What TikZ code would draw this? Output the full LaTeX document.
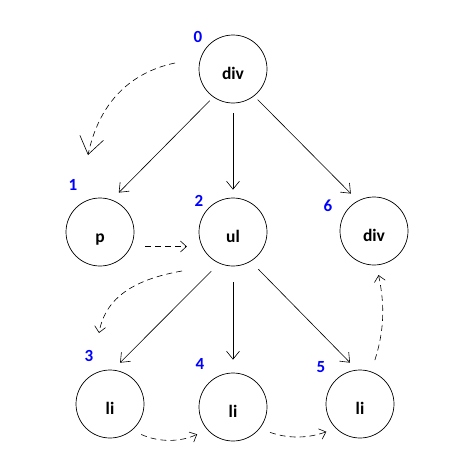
\documentclass[tikz,border=0pt]{standalone}
\usepackage{fontspec}
\setmainfont{Carlito}
\usetikzlibrary{arrows.meta}

\begin{document}
\begin{tikzpicture}[
    x=1pt, y=-1pt,
    elem/.style={draw, circle, line width=0.7pt, minimum size=68pt, inner sep=0pt,
                 text height=22pt, text depth=1pt,
                 font=\fontsize{17.5}{20}\selectfont\bfseries},
    orden/.style={text=blue, inner sep=0pt, font=\fontsize{17}{20}\selectfont\bfseries},
    hijo/.style={-{Straight Barb[length=8pt,width=13pt]}, line width=0.6pt},
    paso/.style={-{Straight Barb[length=6pt,width=11pt]}, line width=0.6pt,
                 dash pattern=on 6pt off 4pt}
  ]
  \useasboundingbox (0,0) rectangle (456,471);

  \node[elem] (d0) at (233,69)  {div};
  \node[elem] (p)  at (100,232) {p};
  \node[elem] (ul) at (233,232) {ul};
  \node[elem] (d6) at (374,231) {div};
  \node[elem] (l3) at (110,404) {li};
  \node[elem] (l4) at (233,407) {li};
  \node[elem] (l5) at (360,404) {li};

  \node[orden] (n0) at (198,37)  {0};
  \node[orden] (n1) at (73,185)  {1};
  \node[orden] (n2) at (199,201) {2};
  \node[orden] (n3) at (89,356)  {3};
  \node[orden] (n4) at (200,364) {4};
  \node[orden] (n5) at (321,367) {5};
  \node[orden] (n6) at (328,206) {6};

  \draw[hijo, shorten <=5pt, shorten >=10pt] (d0.235) -- (p.70);
  \draw[hijo, shorten <=10pt, shorten >=8pt] (d0) -- (ul);
  \draw[hijo, shorten <=5pt, shorten >=10pt] (d0.-52) -- (d6.118);
  \draw[hijo, shorten <=11pt, shorten >=10pt] (ul.-114) -- (l3.85);
  \draw[hijo, shorten <=16pt, shorten >=13pt] (ul) -- (l4);
  \draw[hijo, shorten <=11pt, shorten >=10pt] (ul.-59) -- (l5.95);

  \coordinate (a0) at (175,63);
  \coordinate (b0) at (88,155);
  \coordinate (a2) at (182,271);
  \coordinate (b2) at (99,333);
  \draw[paso, -{Straight Barb[length=17pt,width=24pt]}] (a0) to[out=192,in=78] (b0);
  \draw[paso, shorten <=14pt, shorten >=15pt] (p.-25) -- (ul.205);
  \draw[paso] (a2) to[out=190,in=80] (b2);
  \draw[paso, shorten <=10pt, shorten >=11pt] (l3.-50) to[bend right=25] (l4.221);
  \draw[paso, shorten <=11pt, shorten >=10pt] (l4.-39) to[bend right=20] (l5.225);
  \draw[paso, shorten <=12pt, shorten >=10pt] (l5.71) to[bend right=15] (d6.-86);
\end{tikzpicture}
\end{document}
